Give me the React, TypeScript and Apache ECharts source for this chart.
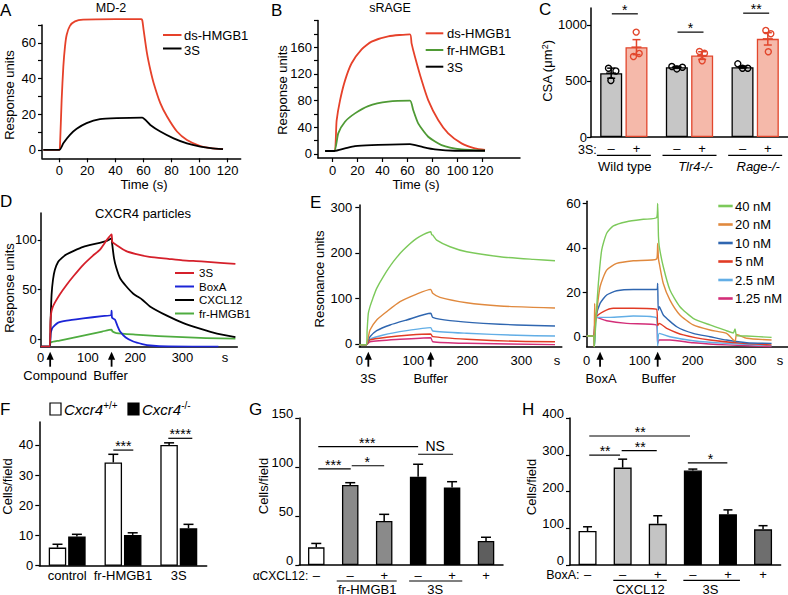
import React, { useEffect, useRef } from 'react';
import * as echarts from 'echarts';

const FONT = '"Liberation Sans", Arial, Helvetica, sans-serif';

// ---------- Panel A (MD-2) ----------
const A_DS: number[][] = [[-11.4,0],[0,0],[0.5,1.9],[1.7,28],[2.9,46.7],[4.1,58],[5.3,64.5],[7.6,69.5],[11.2,72],[17,73],[40,73.3],[58.5,73.3],[59.2,72.5],[60.1,67.3],[62.5,54.2],[64.9,44.9],[67.3,37.4],[72,26.2],[76.8,18.7],[83.9,10.3],[91,5.6],[100.5,2.2],[108,1.0],[116.7,0.4]];
const A_3S: number[][] = [[-11.4,0],[0,0],[2.9,3.7],[7.6,8.4],[12.4,11.8],[19.5,15],[29,17.2],[40.9,17.8],[59,18.1],[64.9,14],[72,10.3],[81.5,6.5],[91,3.7],[100.5,1.9],[108,1.0],[116.7,0.4]];
const A_X_TICKS = [0, 20, 40, 60, 80, 100, 120];
const A_Y_TICKS = [0, 10, 20, 30, 40, 50, 60, 70];
const A_Y_LABELS = [0, 20, 40, 60];

// ---------- Panel B (sRAGE) ----------
const B_DS: number[][] = [[-6,4.5],[1.3,4.5],[3.2,50],[5.9,80],[9.9,110],[15.2,136],[23.2,157],[31.2,168.5],[44.5,176.5],[61.9,179.4],[63.2,165.9],[65.9,145.9],[71.2,110.9],[76.5,80.9],[84.5,50.9],[92.5,30.9],[103.2,15.9],[113.9,8.4],[122,6]];
const B_FR: number[][] = [[-6,4.5],[1.3,4.5],[4.5,31],[9.9,48.4],[17.9,60.9],[28.5,71.9],[44.5,78.4],[61.9,79.9],[64.5,65.9],[68.5,45.9],[76.5,25.9],[87.2,13.4],[103.2,6.9],[122,5]];
const B_3S: number[][] = [[-6,4.5],[1.3,4.5],[9.9,8.4],[17.9,11.9],[31.2,13.4],[61.9,14.9],[71.2,10.9],[81.9,6.9],[97.9,4.9],[122,4.9]];
const B_Y_TICKS = [0, 20, 40, 60, 80, 100, 120, 140, 160, 180, 200];
const B_Y_LABELS = [0, 40, 80, 120, 160];

// ---------- Panel C (CSA) ----------
const C_GROUPS = ['Wild type', 'Tlr4-/-', 'Rage-/-'];
const C_MINUS = [569, 622, 622];
const C_MINUS_SEM = [45, 8, 8];
const C_PLUS = [801, 726, 875];
const C_PLUS_SEM = [67, 34, 55];
const C_MINUS_DOTS = [[613, 589, 503], [628, 607, 622], [652, 613, 613]];
const C_PLUS_DOTS = [[935, 717, 745], [762, 747, 679], [950, 920, 760]];
const C_SIG_Y = [1098, 935, 1104];
const C_SIG_T = ['*', '*', '**'];
const C_Y_TICKS = [0, 500, 1000];

// ---------- Panel D (CXCR4 particles) ----------
const D_3S: number[][] = [[0,-7.2],[19,-7.2],[20.5,15],[22,26],[25,32],[30,37],[40,45],[55,55],[70,64],[90,75],[110,84],[125,90],[140,100],[150,105.5],[151.5,98],[160,95],[180,89],[200,86],[230,83],[270,81],[300,79.5],[340,78.5],[380,77],[412,76]];
const D_BOXA: number[][] = [[0,-7.2],[19,-7.2],[21,6],[24,11],[27,13],[37,17],[55,19],[90,21.2],[130,23.5],[149,24.5],[150,29],[151,22],[157,20],[163,13],[168,8],[180,2],[196,-2],[215,-4.5],[232,-6],[270,-7],[376,-7.2]];
const D_CXCL12: number[][] = [[0,-7.2],[19,-7.2],[21,20],[23,45],[26,60],[30,70],[37,78],[45,82],[55,85.5],[70,89],[90,93],[110,95.5],[125,97],[140,99],[150,101.5],[151,97],[155,82],[160,72],[168,61.5],[180,54],[196,46],[215,40],[232,33],[267,24],[302,16.5],[337,11],[373,6],[412,2.5]];
const D_FR: number[][] = [[0,-7.2],[19,-7.2],[21,-3],[40,-1],[70,2],[100,5],[130,8],[150,10],[152,8],[160,6.5],[200,5],[250,3.5],[300,2.5],[350,1.5],[412,1]];
const D_Y_TICKS = [0, 50, 100];
const D_X_LABELS = [0, 100, 200, 300];
const D_EVENTS = [20, 150];
const D_EVENT_NAMES = ['Compound', 'Buffer'];

// ---------- Panel E (3S left, BoxA right) ----------
const E_NAMES = ['40 nM', '20 nM', '10 nM', '5 nM', '2.5 nM', '1.25 nM'];
const E_COLORS = ['#7cc95a', '#e0893e', '#2f66b0', '#e13b25', '#62aee6', '#d32e78'];
const E1_40: number[][] = [[0,-2],[13,-2],[14.5,30],[16.7,67],[19.8,82],[25,100],[32.2,122],[44.5,148],[63,180.6],[81.5,206],[106.3,231.7],[132.2,246.3],[134,240],[135.9,239],[143.3,228],[168,213.4],[198.9,202.4],[260.6,191.5],[322.2,185.7],[362.4,182.7]];
const E1_20: number[][] = [[0,-2],[13,-2],[16.7,15],[19.8,30.7],[32.2,52.6],[50.7,70.9],[75.4,92.8],[106.3,109.6],[132.2,119.9],[135.9,111.2],[149.4,102.3],[198.9,90.6],[260.6,83.3],[322.2,80.4],[362.4,78.9]];
const E1_10: number[][] = [[0,-2],[13,-2],[16.7,8],[19.8,16],[32.2,29.2],[56.9,41.7],[87.8,52.6],[132.2,67.3],[135.9,58.5],[168,51.2],[229.6,45.3],[291.5,41.7],[362.4,39.5]];
const E1_5: number[][] = [[0,-2],[13,-2],[19.8,8.8],[50.7,14.6],[93.9,19.7],[132.2,21.9],[135.9,16],[198.9,10.2],[291.5,5.8],[362.4,5]];
const E1_2_5: number[][] = [[0,-2],[13,-2],[19.8,10.2],[44.5,19.7],[87.8,29.2],[132.2,35.8],[135.9,28.5],[198.9,23.4],[291.5,19],[362.4,17.5]];
const E1_1_25: number[][] = [[0,-2],[13,-2],[19.8,5],[75.4,10.2],[132.2,13.8],[135.9,5],[198.9,1.5],[362.4,-1.5]];
const E2_40: number[][] = [[0,0.3],[12.6,0.3],[14.5,-4.5],[17.6,8.7],[22,24],[28.3,39],[37.7,46.6],[50.3,49.9],[75.5,51.8],[107,52.9],[132,53.6],[134,60],[135.5,45],[137,40.6],[144.6,31.5],[157.2,21],[176,13.5],[201,8.3],[232.7,5.3],[264,2.7],[276.7,1.7],[280,3.5],[283,0.5],[302,0.3],[349,-0.3]];
const E2_20: number[][] = [[0,0.3],[12.6,0.3],[14,-4.5],[15,15],[16.3,6],[17.6,8.7],[25.2,22.5],[37.7,30],[56.6,33],[88,34.2],[132,35],[134,42],[135.5,35],[137,33],[144.6,24],[157.2,16.5],[176,9.8],[201,5.3],[232.7,3],[264,1.5],[280,-2],[283,1],[302,-0.7],[349,-1.5]];
const E2_10: number[][] = [[0,0.3],[12.6,0.3],[14.5,-4.5],[17.6,8.7],[25.2,15],[37.7,18.8],[56.6,20.7],[88,21.3],[132,21.3],[134,24],[135,12],[137,13.5],[144.6,9.8],[170,4.5],[201,1.5],[232.7,0],[264,-1.5],[302,-2.7],[349,-3]];
const E2_5: number[][] = [[0,0.3],[12.6,0.3],[17.6,8.7],[31.4,11.3],[50.3,12.8],[88,12.8],[132,12.3],[134,5],[137,6],[151,3.8],[182.4,0.8],[232.7,-1.5],[295.6,-3],[349,-3.7]];
const E2_2_5: number[][] = [[0,0.3],[12.6,0.3],[17.6,8.7],[44,8.7],[88,9.3],[132,8.4],[134,-4],[137,1.5],[157.2,0],[201,-1.8],[264,-3],[349,-4]];
const E2_1_25: number[][] = [[0,0.3],[12.6,0.3],[17.6,8.7],[37.7,7.2],[75.5,6],[132,5.3],[134,-3],[137,-1.5],[157.2,-1.5],[201,-2.7],[264,-3.7],[349,-4.5]];
const E1_Y_TICKS = [0, 100, 200, 300];
const E2_Y_TICKS = [0, 20, 40, 60];
const E_X_LABELS = [0, 100, 200, 300];
const E1_EVENTS = [16.7, 132.2];
const E1_EVENT_NAMES = ['3S', 'Buffer'];
const E2_EVENTS = [25.2, 134];
const E2_EVENT_NAMES = ['BoxA', 'Buffer'];

// ---------- Panel F ----------
const F_CATS = ['control', 'fr-HMGB1', '3S'];
const F_WT = [6.0, 34.2, 40.0];
const F_WT_SEM = [1.1, 2.7, 0.7];
const F_KO = [9.7, 10.2, 12.4];
const F_KO_SEM = [0.7, 0.7, 1.3];
const F_Y_TICKS = [0, 10, 20, 30, 40];

// ---------- Panel G ----------
const G_CATS = ['g1', 'g2', 'g3', 'g4', 'g5', 'g6'];
const G_MEAN = [18, 81.6, 44.9, 90, 79, 24.5];
const G_SEM = [4, 2.4, 6.8, 12.8, 6, 3.8];
const G_SIGNS = ['–', '–', '+', '–', '+', '+'];
const G_COLORS = ['#ffffff', '#8a8a8a', '#8a8a8a', '#000000', '#000000', '#5e5e5e'];
const G_Y_TICKS = [0, 50, 100, 150];

// ---------- Panel H ----------
const H_CATS = ['h1', 'h2', 'h3', 'h4', 'h5', 'h6'];
const H_MEAN = [92.5, 265, 112, 257, 138, 97];
const H_SEM = [11.5, 23, 22, 4, 12, 10];
const H_SIGNS = ['–', '–', '+', '–', '+', '+'];
const H_COLORS = ['#ffffff', '#c4c4c4', '#c4c4c4', '#000000', '#000000', '#6e6e6e'];
const H_Y_TICKS = [0, 100, 200, 300, 400];

// ---------- helpers ----------
type Pt = [number, number, number, number];
interface Ann { k: 'line' | 'text' | 'arrow'; a: Pt; b?: Pt; t?: string; size?: number; italic?: boolean; align?: string; va?: string; color?: string; width?: number; }

function txtStyle(text: string, size: number, align: string, va: string, italic = false, color = '#000') {
  return { text, fill: color, fontSize: size, fontFamily: FONT, fontStyle: italic ? 'italic' : 'normal', align, verticalAlign: va, textAlign: align, textVerticalAlign: va };
}

function annotSeries(gi: number, items: Ann[]) {
  return {
    type: 'custom', xAxisIndex: gi, yAxisIndex: gi, silent: true, z: 20, clip: false,
    data: [[0, 0]], encode: { x: 0, y: 1 },
    renderItem: (_p: any, api: any) => {
      const P = (p: Pt) => { const c = api.coord([p[0], p[1]]); return [c[0] + p[2], c[1] + p[3]]; };
      const children: any[] = [];
      for (const it of items) {
        const a = P(it.a);
        if (it.k === 'line') {
          const b = P(it.b as Pt);
          children.push({ type: 'line', shape: { x1: a[0], y1: a[1], x2: b[0], y2: b[1] }, style: { stroke: it.color || '#000', lineWidth: it.width || 1.3 } });
        } else if (it.k === 'text') {
          children.push({ type: 'text', x: a[0], y: a[1], style: txtStyle(it.t || '', it.size || 13, it.align || 'center', it.va || 'middle', !!it.italic, it.color || '#000') });
        } else {
          children.push({ type: 'line', shape: { x1: a[0], y1: a[1] + 5, x2: a[0], y2: a[1] + 15 }, style: { stroke: '#000', lineWidth: 1.8 } });
          children.push({ type: 'polygon', shape: { points: [[a[0], a[1]], [a[0] - 3.6, a[1] + 8], [a[0] + 3.6, a[1] + 8]] }, style: { fill: '#000' } });
        }
      }
      return { type: 'group', children };
    },
  };
}

function errSeries(gi: number, means: number[], errs: number[], offset: number, both: boolean, color: string, cap: number) {
  return {
    type: 'custom', xAxisIndex: gi, yAxisIndex: gi, silent: true, z: 10, clip: false,
    data: means.map((m, i) => [i, m, errs[i]]), encode: { x: 0, y: 1 },
    renderItem: (_p: any, api: any) => {
      const i = api.value(0), m = api.value(1), e = api.value(2);
      const top = api.coord([i, m + e]);
      const bot = api.coord([i, both ? m - e : m]);
      const x = top[0] + offset;
      const st = { stroke: color, lineWidth: 1.5 };
      const ch: any[] = [
        { type: 'line', shape: { x1: x, y1: top[1], x2: x, y2: bot[1] }, style: st },
        { type: 'line', shape: { x1: x - cap / 2, y1: top[1], x2: x + cap / 2, y2: top[1] }, style: st },
      ];
      if (both) {
        const mid = api.coord([i, m]);
        ch.push({ type: 'line', shape: { x1: x - cap / 2, y1: bot[1], x2: x + cap / 2, y2: bot[1] }, style: st });
        ch.push({ type: 'line', shape: { x1: x - cap / 2 - 1, y1: mid[1], x2: x + cap / 2 + 1, y2: mid[1] }, style: st });
      }
      return { type: 'group', children: ch };
    },
  };
}

const C_MINUS_JIT = [[-2.7, 4.7, -0.3], [-5, 0, 5.6], [-4.7, 0, 5.3]];
const C_PLUS_JIT = [[-0.3, -3, 2.7], [-2.7, 2.3, 0], [-2, 3, 0.5]];

function dotSeries(gi: number, dots: number[][], jit: number[][], offset: number, color: string) {
  const data: number[][] = [];
  dots.forEach((arr, g) => arr.forEach((v, j) => data.push([g, v, j])));
  return {
    type: 'custom', xAxisIndex: gi, yAxisIndex: gi, silent: true, z: 12, clip: false,
    data, encode: { x: 0, y: 1 },
    renderItem: (_p: any, api: any) => {
      const g = api.value(0), v = api.value(1), j = api.value(2);
      const c = api.coord([g, v]);
      return { type: 'circle', shape: { cx: c[0] + offset + jit[g][j], cy: c[1], r: 3 }, style: { fill: 'none', stroke: color, lineWidth: 1.4 } };
    },
  };
}

function lineS(gi: number, name: string, data: number[][], color: string, width: number, clip = true) {
  return { type: 'line', name, xAxisIndex: gi, yAxisIndex: gi, data, showSymbol: false, symbol: 'none', smooth: 0.2, lineStyle: { color, width, join: 'round' }, itemStyle: { color }, clip, silent: true, z: 3 };
}

const axisLineStyle = { color: '#000', width: 1.5 };

function vAxis(gi: number, min: number, max: number, ticks: number[], labels: number[], margin = 6, tickLen = 4, raise = false) {
  return {
    type: 'value', gridIndex: gi, min, max, splitLine: { show: false },
    axisLine: { show: true, onZero: false, lineStyle: axisLineStyle },
    axisTick: { show: ticks.length > 0, customValues: ticks, length: tickLen, lineStyle: { color: '#000', width: 1.2 } },
    axisLabel: {
      show: labels.length > 0, customValues: labels, color: '#000', fontSize: 13, fontFamily: FONT, margin,
      formatter: (v: number) => String(v),
      ...(raise ? { verticalAlign: 'bottom', lineHeight: 9 } : {}),
    },
  };
}

function cAxis(gi: number, cats: string[], showLabels: boolean, margin = 4) {
  return {
    type: 'category', gridIndex: gi, data: cats, splitLine: { show: false },
    axisLine: { show: true, onZero: false, lineStyle: axisLineStyle },
    axisTick: { show: false },
    axisLabel: { show: showLabels, color: '#000', fontSize: 13, fontFamily: FONT, margin, interval: 0 },
  };
}

function T(x: number, y: number, text: string, size = 13, align = 'center', opts: any = {}) {
  return { type: 'text', x, y, rotation: opts.rot || 0, silent: true, style: { ...txtStyle(text, size, align, 'middle', !!opts.italic, opts.color || '#000'), ...(opts.rich ? { rich: opts.rich } : {}) } };
}
function L(x1: number, y1: number, x2: number, y2: number, color: string, w = 2) {
  return { type: 'line', silent: true, shape: { x1, y1, x2, y2 }, style: { stroke: color, lineWidth: w } };
}

export default function App() {
  const ref = useRef<HTMLDivElement>(null);
  useEffect(() => {
    if (!ref.current) return;
    const chart = echarts.init(ref.current, undefined, { renderer: 'svg' });
    const RED = '#e6412a';

    const grids = [
      { left: 42, top: 25, width: 198.7, height: 133.3 },       // A
      { left: 318, top: 20.6, width: 202, height: 137.4 },      // B
      { left: 591, top: 8, width: 197, height: 129 },           // C
      { left: 40.7, top: 213, width: 196.6, height: 133.7 },    // D
      { left: 359.3, top: 205, width: 202.5, height: 141.7 },   // E left
      { left: 586.7, top: 201.3, width: 201.3, height: 145.4 }, // E right
      { left: 39.3, top: 422, width: 167.4, height: 143.7 },    // F
      { left: 299.3, top: 418, width: 203.7, height: 147 },     // G
      { left: 570, top: 418, width: 210.6, height: 147 },       // H
    ];

    const xAxis = [
      vAxis(0, -12.3, 129.3, A_X_TICKS, A_X_TICKS, 6),
      vAxis(1, -11.7, 150, A_X_TICKS, A_X_TICKS, 6),
      cAxis(2, C_GROUPS, false),
      vAxis(3, 0, 416, [], D_X_LABELS, 4),
      vAxis(4, 0, 375, [], E_X_LABELS, 7),
      vAxis(5, 0, 380, [], E_X_LABELS, 7),
      cAxis(6, F_CATS, true, 3.5),
      cAxis(7, G_CATS, false),
      cAxis(8, H_CATS, false),
    ];
    const yAxis = [
      vAxis(0, -4.7, 70, A_Y_TICKS, A_Y_LABELS, 6),
      vAxis(1, -6, 200, B_Y_TICKS, B_Y_LABELS, 6),
      vAxis(2, 0, 1150, C_Y_TICKS, C_Y_TICKS, 4),
      vAxis(3, -7.2, 127, D_Y_TICKS, D_Y_TICKS, 4, 3),
      vAxis(4, -6, 305, E1_Y_TICKS, E1_Y_TICKS, 7),
      vAxis(5, -4.5, 61, E2_Y_TICKS, E2_Y_TICKS, 6),
      vAxis(6, 0, 47.6, F_Y_TICKS, F_Y_TICKS, 6),
      vAxis(7, 0, 150, G_Y_TICKS, G_Y_TICKS, 6, 4, true),
      vAxis(8, 0, 400, H_Y_TICKS, H_Y_TICKS, 6, 4, true),
    ];

    const E1 = [E1_40, E1_20, E1_10, E1_5, E1_2_5, E1_1_25];
    const E2 = [E2_40, E2_20, E2_10, E2_5, E2_2_5, E2_1_25];

    const cOff = 12.65;
    const fOff = 9.7;

    const cAnn: Ann[] = [{ k: 'text', a: [0, 0, -27, 13], t: '3S:', align: 'right', size: 12.5 }];
    C_GROUPS.forEach((g, i) => {
      cAnn.push({ k: 'text', a: [i, 0, -cOff, 11.5], t: '–' });
      cAnn.push({ k: 'text', a: [i, 0, cOff, 11.5], t: '+' });
      cAnn.push({ k: 'line', a: [i, 0, -27, 18.3], b: [i, 0, 27, 18.3], width: 1.2 });
      cAnn.push({ k: 'text', a: [i, 0, i === 0 ? 1 : i === 1 ? 6 : 3, 29.7], t: g, italic: i > 0 });
      cAnn.push({ k: 'line', a: [i, C_SIG_Y[i], -12, 0], b: [i, C_SIG_Y[i], 14, 0], width: 1.2 });
      cAnn.push({ k: 'text', a: [i, C_SIG_Y[i], 1, -4], t: C_SIG_T[i], size: 14 });
    });

    const dAnn: Ann[] = [{ k: 'text', a: [390, -7.2, 0, 10.6], t: 's' }];
    D_EVENTS.forEach((t, i) => {
      dAnn.push({ k: 'arrow', a: [t, -7.2, 0, 5] });
      dAnn.push({ k: 'text', a: [t, -7.2, i === 0 ? 5 : -1, 28.3], t: D_EVENT_NAMES[i] });
    });
    const e1Ann: Ann[] = [{ k: 'text', a: [366, -6, 0, 13.3], t: 's' }];
    E1_EVENTS.forEach((t, i) => {
      e1Ann.push({ k: 'arrow', a: [t, -6, 0, 5] });
      e1Ann.push({ k: 'text', a: [t, -6, 0, 31.6], t: E1_EVENT_NAMES[i] });
    });
    const e2Ann: Ann[] = [{ k: 'text', a: [365, -4.5, 0, 13.3], t: 's' }];
    E2_EVENTS.forEach((t, i) => {
      e2Ann.push({ k: 'arrow', a: [t, -4.5, 0, 5] });
      e2Ann.push({ k: 'text', a: [t, -4.5, 1, 31.6], t: E2_EVENT_NAMES[i] });
    });

    const fAnn: Ann[] = [
      { k: 'line', a: [1, 38.3, -fOff, 0], b: [1, 38.3, 10.3, 0], width: 1.2 },
      { k: 'text', a: [1, 38.3, 0.3, -4], t: '***', size: 14 },
      { k: 'line', a: [2, 42.2, -10.5, 0], b: [2, 42.2, 13.5, 0], width: 1.2 },
      { k: 'text', a: [2, 42.2, 1.5, -4], t: '****', size: 14 },
    ];

    const gHalf = 203.7 / 12;
    const gAnn: Ann[] = [{ k: 'text', a: [0, 0, -8, 10.5], t: 'αCXCL12:', align: 'right', size: 12 }];
    G_SIGNS.forEach((s, i) => gAnn.push({ k: 'text', a: [i, 0, 0, 10.5], t: s }));
    gAnn.push(
      { k: 'line', a: [1, 0, -13.5, 16], b: [2, 0, 12.5, 16], width: 1.2 },
      { k: 'line', a: [3, 0, -9, 16], b: [4, 0, 10.2, 16], width: 1.2 },
      { k: 'text', a: [1, 0, gHalf, 24], t: 'fr-HMGB1' },
      { k: 'text', a: [3, 0, gHalf, 24], t: '3S' },
      { k: 'line', a: [0, 120.7, 2, 0], b: [3, 120.7, 0, 0], width: 1.2 },
      { k: 'text', a: [1, 120.7, gHalf, -4], t: '***', size: 14 },
      { k: 'line', a: [3, 113, 0, 0], b: [4, 113, 1, 0], width: 1.2 },
      { k: 'text', a: [3, 113, gHalf, -8], t: 'NS', size: 14 },
      { k: 'line', a: [0, 98, 2, 0], b: [1, 98, 0.5, 0], width: 1.2 },
      { k: 'text', a: [0, 98, gHalf, -4], t: '***', size: 14 },
      { k: 'line', a: [1, 101.3, 1.5, 0], b: [2, 101.3, 0, 0], width: 1.2 },
      { k: 'text', a: [1, 101.3, gHalf, -4], t: '*', size: 14 },
    );

    const hHalf = 210.6 / 12;
    const hAnn: Ann[] = [{ k: 'text', a: [0, 0, -8, 9.8], t: 'BoxA:', align: 'right', size: 12.5 }];
    H_SIGNS.forEach((s, i) => hAnn.push({ k: 'text', a: [i, 0, 0, 9.8], t: s }));
    hAnn.push(
      { k: 'line', a: [1, 0, -9.35, 15.3], b: [2, 0, 9, 15.3], width: 1.2 },
      { k: 'line', a: [3, 0, -9.5, 15.3], b: [4, 0, 12, 15.3], width: 1.2 },
      { k: 'text', a: [1, 0, hHalf, 24], t: 'CXCL12' },
      { k: 'text', a: [3, 0, hHalf, 24], t: '3S' },
      { k: 'line', a: [0, 351, 1.7, 0], b: [3, 351, -2.8, 0], width: 1.2 },
      { k: 'text', a: [1, 351, hHalf, -4], t: '**', size: 14 },
      { k: 'line', a: [0, 299, 1.7, 0], b: [1, 299, -2.6, 0], width: 1.2 },
      { k: 'text', a: [0, 299, hHalf, -4], t: '**', size: 14 },
      { k: 'line', a: [1, 311, -1, 0], b: [2, 311, -1, 0], width: 1.2 },
      { k: 'text', a: [1, 311, hHalf, -4], t: '**', size: 14 },
      { k: 'line', a: [3, 278, -5, 0], b: [4, 278, -0.6, 0], width: 1.2 },
      { k: 'text', a: [3, 278, hHalf, -4], t: '*', size: 14 },
    );

    const barBorder = { borderColor: '#000', borderWidth: 1.3 };

    const series: any[] = [
      lineS(0, 'ds-HMGB1', A_DS, RED, 1.8, false),
      lineS(0, '3S', A_3S, '#000', 1.8, false),
      lineS(1, 'ds-HMGB1', B_DS, RED, 1.8),
      lineS(1, 'fr-HMGB1', B_FR, '#4f9a35', 1.8),
      lineS(1, '3S', B_3S, '#000', 1.8),
      { type: 'bar', xAxisIndex: 2, yAxisIndex: 2, data: C_MINUS, barWidth: 22, barGap: '15%', itemStyle: { color: '#c6c6c6', ...barBorder }, silent: true },
      { type: 'bar', xAxisIndex: 2, yAxisIndex: 2, data: C_PLUS, barWidth: 22, barGap: '15%', itemStyle: { color: '#f5b9aa', borderColor: '#e2462c', borderWidth: 1.3 }, silent: true },
      errSeries(2, C_MINUS, C_MINUS_SEM, -cOff, true, '#000', 8),
      errSeries(2, C_PLUS, C_PLUS_SEM, cOff, true, '#e2462c', 8),
      dotSeries(2, C_MINUS_DOTS, C_MINUS_JIT, -cOff, '#000'),
      dotSeries(2, C_PLUS_DOTS, C_PLUS_JIT, cOff, '#e2462c'),
      annotSeries(2, cAnn),
      lineS(3, 'fr-HMGB1', D_FR, '#4fac40', 1.8),
      lineS(3, 'BoxA', D_BOXA, '#1c25d6', 1.8),
      lineS(3, 'CXCL12', D_CXCL12, '#000', 1.8),
      lineS(3, '3S', D_3S, '#d5202b', 1.8),
      annotSeries(3, dAnn),
      ...E1.slice().reverse().map((d, k) => lineS(4, E_NAMES[5 - k], d, E_COLORS[5 - k], 1.4)),
      annotSeries(4, e1Ann),
      ...E2.slice().reverse().map((d, k) => lineS(5, E_NAMES[5 - k], d, E_COLORS[5 - k], 1.4)),
      annotSeries(5, e2Ann),
      { type: 'bar', xAxisIndex: 6, yAxisIndex: 6, data: F_WT, barWidth: 17.5, barGap: '11%', itemStyle: { color: '#fff', ...barBorder }, silent: true },
      { type: 'bar', xAxisIndex: 6, yAxisIndex: 6, data: F_KO, barWidth: 17.5, barGap: '11%', itemStyle: { color: '#000', ...barBorder }, silent: true },
      errSeries(6, F_WT, F_WT_SEM, -fOff, false, '#000', 10),
      errSeries(6, F_KO, F_KO_SEM, fOff, false, '#000', 10),
      annotSeries(6, fAnn),
      { type: 'bar', xAxisIndex: 7, yAxisIndex: 7, data: G_MEAN.map((v, i) => ({ value: v, itemStyle: { color: G_COLORS[i] } })), barWidth: 16.5, itemStyle: barBorder, silent: true },
      errSeries(7, G_MEAN, G_SEM, 0, false, '#000', 10),
      annotSeries(7, gAnn),
      { type: 'bar', xAxisIndex: 8, yAxisIndex: 8, data: H_MEAN.map((v, i) => ({ value: v, itemStyle: { color: H_COLORS[i] } })), barWidth: 18, itemStyle: barBorder, silent: true },
      errSeries(8, H_MEAN, H_SEM, 0, false, '#000', 9),
      annotSeries(8, hAnn),
    ];

    const rot = Math.PI / 2;
    const supRich = (size: number) => ({
      i: { fontSize: size, fontStyle: 'italic', fontFamily: FONT, fill: '#000' },
      s: { fontSize: 10, fontFamily: FONT, fill: '#000', verticalAlign: 'top', padding: [0, 0, 8, 0] },
    });

    const graphic: any[] = [
      // panel letters
      T(0, 10, 'A', 17, 'left'), T(271, 10, 'B', 17, 'left'), T(539, 9.5, 'C', 17, 'left'),
      T(0, 201, 'D', 17, 'left'), T(310, 202, 'E', 17, 'left'), T(0, 409, 'F', 17, 'left'),
      T(249, 409, 'G', 17, 'left'), T(522, 409, 'H', 17, 'left'),
      // titles
      T(111, 8, 'MD-2', 12.5), T(390, 8, 'sRAGE', 12.5), T(143, 213, 'CXCR4 particles', 13),
      // axis names
      T(9.5, 95, 'Response units', 13, 'center', { rot }),
      T(144, 184.5, 'Time (s)', 13),
      T(282.5, 90, 'Response units', 13, 'center', { rot }),
      T(416, 184.5, 'Time (s)', 13),
      {
        type: 'text', x: 547.5, y: 71, rotation: rot, silent: true,
        style: { ...txtStyle('{a|CSA (μm}{s|2}{a|)}', 13, 'center', 'middle'), rich: { a: { fontSize: 13, fontFamily: FONT, fill: '#000' }, s: { fontSize: 9, fontFamily: FONT, fill: '#000', verticalAlign: 'top', padding: [0, 0, 6, 0] } } },
      },
      T(9, 288, 'Response units', 13, 'center', { rot }),
      T(319, 279, 'Resonance units', 13, 'center', { rot }),
      T(7.7, 486.5, 'Cells/field', 13, 'center', { rot }),
      T(263, 486, 'Cells/field', 13, 'center', { rot }),
      T(531, 487, 'Cells/field', 13, 'center', { rot }),
      // legend A
      L(163, 35, 181.5, 35, RED), T(184, 35, 'ds-HMGB1', 13, 'left'),
      L(163, 48.5, 181.5, 48.5, '#000'), T(184, 50, '3S', 13, 'left'),
      // legend B
      L(425.7, 33.3, 443.3, 33.3, RED), T(447, 33.5, 'ds-HMGB1', 13, 'left'),
      L(425.7, 50, 443.3, 50, '#4f9a35'), T(447, 50, 'fr-HMGB1', 13, 'left'),
      L(425.7, 66.7, 443.3, 66.7, '#000'), T(447, 67, '3S', 13, 'left'),
      // legend D
      L(175, 273, 194, 273, '#d5202b'), T(199, 273, '3S', 11.5, 'left'),
      L(175, 286.5, 194, 286.5, '#1c25d6'), T(199, 286.5, 'BoxA', 11.5, 'left'),
      L(175, 300, 194, 300, '#000'), T(199, 300, 'CXCL12', 11.5, 'left'),
      L(175, 313.5, 194, 313.5, '#4fac40'), T(199, 313.5, 'fr-HMGB1', 11.5, 'left'),
      // legend E
      ...E_NAMES.flatMap((n, i) => [L(718.3, 206 + i * 18.5, 732.7, 206 + i * 18.5, E_COLORS[i], 2.6), T(735, 206 + i * 18.5, n, 13, 'left')]),
      // legend F
      { type: 'rect', silent: true, shape: { x: 50, y: 403, width: 11, height: 12 }, style: { fill: '#fff', stroke: '#000', lineWidth: 1.2 } },
      { type: 'text', x: 64, y: 409, silent: true, style: { ...txtStyle('{i|Cxcr4}{s|+/+}', 15, 'left', 'middle'), rich: supRich(15) } },
      { type: 'rect', silent: true, shape: { x: 128, y: 403, width: 11, height: 12 }, style: { fill: '#000', stroke: '#000', lineWidth: 1.2 } },
      { type: 'text', x: 142, y: 409, silent: true, style: { ...txtStyle('{i|Cxcr4}{s|-/-}', 15, 'left', 'middle'), rich: supRich(15) } },
    ];

    chart.setOption({
      animation: false,
      backgroundColor: '#fff',
      textStyle: { fontFamily: FONT },
      grid: grids,
      xAxis,
      yAxis,
      series,
      graphic,
    });
    return () => chart.dispose();
  }, []);
  return <div ref={ref} style={{ position: 'fixed', left: 0, top: 0, width: 788, height: 595, background: '#fff' }} />;
}
